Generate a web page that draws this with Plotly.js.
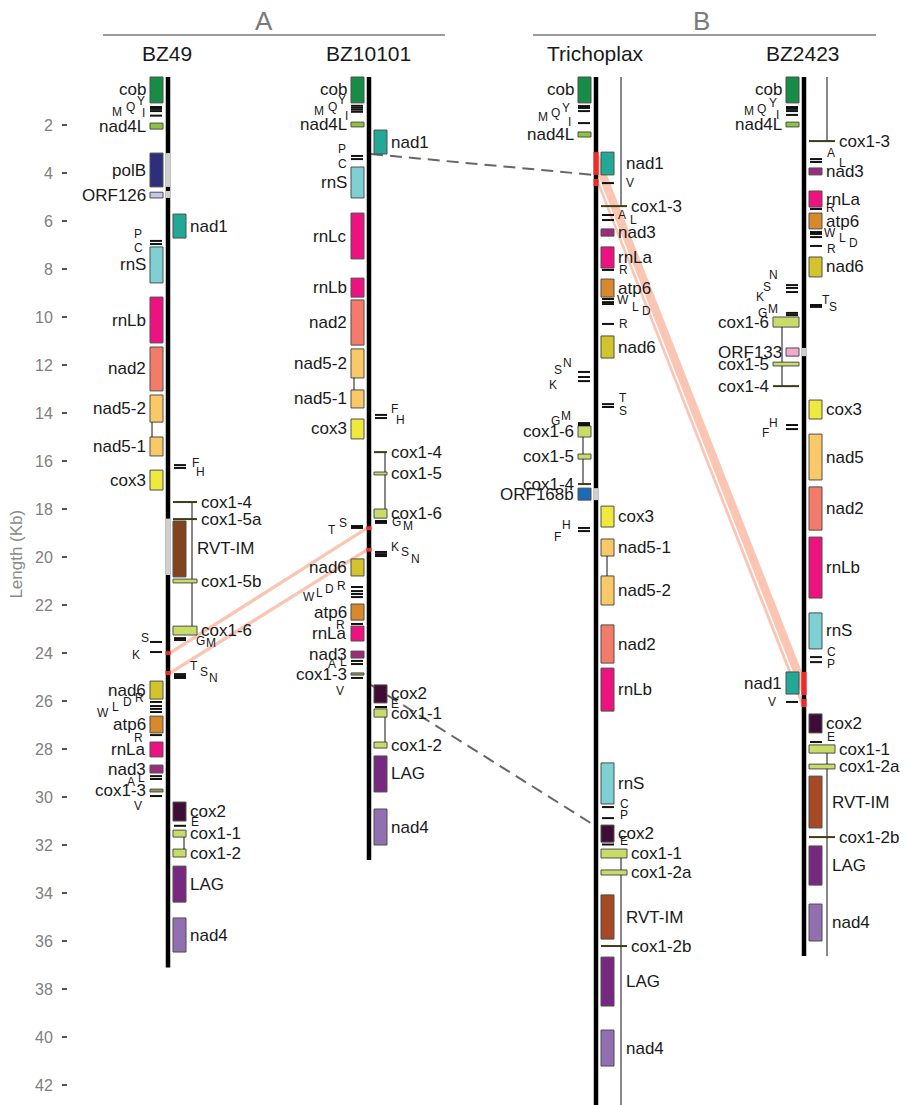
<!DOCTYPE html>
<html><head><meta charset="utf-8">
<script src="https://cdn.plot.ly/plotly-3.0.1.min.js"></script>
<style>html,body{margin:0;padding:0;background:#fff}#chart{width:906px;height:1105px}</style>
</head><body><div id="chart"></div>
<script>
// ================= DATA (kb) =================
const groupNames = ['A', 'B'];
const genomeNames = ['BZ49', 'BZ10101', 'Trichoplax', 'BZ2423'];
const genomeLength = [37.10, 32.63, 43.08, 36.63];
const yTickValues = [2,4,6,8,10,12,14,16,18,20,22,24,26,28,30,32,34,36,38,40,42];
const yTickLabels = ['2','4','6','8','10','12','14','16','18','20','22','24','26','28','30','32','34','36','38','40','42'];

// ---- BZ49 ----
const bz49GeneName   = ['cob','nad4L','polB','ORF126','nad1','rnS','rnLb','nad2','nad5-2','nad5-1','cox3','cox1-4','cox1-5a','RVT-IM','cox1-5b','cox1-6','nad6','atp6','rnLa','nad3','cox1-3','cox2','cox1-1','cox1-2','LAG','nad4'];
const bz49GeneStart  = [0.00,1.92,3.17,4.80,5.71,7.08,9.17,11.25,13.25,15.00,16.38,17.71,18.42,18.50,20.92,22.88,25.17,26.63,27.71,28.67,29.67,30.21,31.38,32.17,32.88,35.04];
const bz49GeneEnd    = [1.08,2.17,4.58,5.04,6.71,8.58,11.08,13.08,14.38,15.79,17.21,17.71,18.42,20.83,21.08,23.25,25.92,27.33,28.33,29.00,29.79,31.00,31.67,32.50,34.38,36.46];
const bz49GeneStrand = ['L','L','L','L','R','L','L','L','L','L','L','R','R','R','R','R','L','L','L','L','L','R','R','R','R','R'];
const bz49TrnaName   = ['M','Q','Y','I','P','C','F','H','G','M','S','K','T','S','N','R','D','L','W','R','A','L','V','E'];
const bz49TrnaPos    = [1.25,1.33,1.42,1.61,6.83,6.96,16.17,16.29,23.38,23.46,23.54,23.96,24.88,24.96,25.04,26.04,26.21,26.33,26.46,27.42,29.13,29.25,29.96,31.20];
const bz49TrnaStrand = ['L','L','L','L','L','L','R','R','R','R','L','L','R','R','R','L','L','L','L','L','L','L','L','R'];
const bz49Intergenic = [[3.17,4.58],[4.75,5.04],[18.40,20.75]];
const bz49Breakpoint = [[23.92,24.08],[24.75,24.92]];

// ---- BZ10101 ----
const bz10101GeneName   = ['cob','nad4L','nad1','rnS','rnLc','rnLb','nad2','nad5-2','nad5-1','cox3','cox1-4','cox1-5','cox1-6','nad6','atp6','rnLa','nad3','cox1-3','cox2','cox1-1','cox1-2','LAG','nad4'];
const bz10101GeneStart  = [0.00,1.88,2.21,3.75,5.67,8.38,9.29,11.33,13.04,14.25,15.63,16.46,18.00,20.08,21.96,22.88,23.92,24.83,25.33,26.33,27.71,28.29,30.50];
const bz10101GeneEnd    = [1.08,2.08,3.21,5.04,7.58,9.17,11.17,12.54,13.79,15.08,15.63,16.58,18.38,20.79,22.63,23.50,24.21,24.92,26.08,26.67,27.96,29.79,32.00];
const bz10101GeneStrand = ['L','L','R','L','L','L','L','L','L','L','R','R','R','L','L','L','L','L','R','R','R','R','R'];
const bz10101TrnaName   = ['M','Q','Y','I','P','C','F','H','G','M','T','S','K','S','N','R','D','L','W','R','A','L','V','E'];
const bz10101TrnaPos    = [1.20,1.28,1.36,1.45,3.29,3.42,14.08,14.21,18.50,18.58,18.71,18.79,19.79,19.88,19.96,21.25,21.42,21.54,21.67,22.79,24.33,24.46,25.04,26.25];
const bz10101TrnaStrand = ['L','L','L','L','L','L','R','R','R','R','L','L','R','R','R','L','L','L','L','L','L','L','L','R'];
const bz10101Intergenic = [];
const bz10101Breakpoint = [[18.72,18.88],[19.62,19.78]];

// ---- Trichoplax ----
const trichGeneName   = ['cob','nad4L','nad1','cox1-3','nad3','rnLa','atp6','nad6','cox1-6','cox1-5','cox1-4','ORF168b','cox3','nad5-1','nad5-2','nad2','rnLb','rnS','cox2','cox1-1','cox1-2a','RVT-IM','cox1-2b','LAG','nad4'];
const trichGeneStart  = [0.00,2.29,3.13,5.38,6.33,7.08,8.42,10.79,14.54,15.71,16.96,17.13,17.88,19.25,20.79,22.83,24.63,28.58,31.17,32.17,33.04,34.08,36.21,36.67,39.71];
const trichGeneEnd    = [1.08,2.50,4.08,5.38,6.63,7.96,9.17,11.71,15.00,15.92,16.96,17.63,18.75,19.96,22.00,24.42,26.42,30.29,31.88,32.54,33.25,35.92,36.21,38.71,41.21];
const trichGeneStrand = ['L','L','R','R','R','R','R','R','L','L','L','L','R','R','R','R','R','R','R','R','R','R','R','R','R'];
const trichTrnaName   = ['M','Q','Y','I','V','A','L','R','W','L','D','R','N','S','K','T','S','G','M','H','F','C','P','E'];
const trichTrnaPos    = [1.21,1.29,1.42,1.92,4.42,5.75,5.96,8.04,9.25,9.38,9.46,10.29,12.29,12.50,12.67,13.63,13.75,14.42,14.50,18.79,18.92,30.42,30.88,31.98];
const trichTrnaStrand = ['L','L','L','L','R','R','R','R','R','R','R','R','L','L','L','R','R','L','L','L','L','R','R','R'];
const trichIntergenic = [[17.13,17.63]];
const trichBreakpoint = [[3.13,4.08],[4.25,4.54]];

// ---- BZ2423 ----
const bz2423GeneName   = ['cob','nad4L','cox1-3','nad3','rnLa','atp6','nad6','cox1-6','ORF133','cox1-5','cox1-4','cox3','nad5','nad2','rnLb','rnS','nad1','cox2','cox1-1','cox1-2a','RVT-IM','cox1-2b','LAG','nad4'];
const bz2423GeneStart  = [0.00,1.88,2.67,3.79,4.75,5.67,7.50,10.00,11.29,11.88,12.88,13.46,14.88,17.08,19.17,22.33,24.79,26.54,27.83,28.63,29.13,31.67,32.04,34.46];
const bz2423GeneEnd    = [1.08,2.08,2.67,4.08,5.42,6.33,8.33,10.42,11.63,12.04,12.88,14.25,16.79,18.88,21.71,23.83,25.71,27.33,28.17,28.83,31.29,31.67,33.67,36.00];
const bz2423GeneStrand = ['L','L','R','R','R','R','R','L','L','L','L','R','R','R','R','R','L','R','R','R','R','R','R','R'];
const bz2423TrnaName   = ['M','Q','Y','I','A','L','R','W','L','D','R','N','S','K','T','S','G','M','H','F','C','P','V','E'];
const bz2423TrnaPos    = [1.25,1.33,1.42,1.58,3.42,3.54,5.50,6.46,6.54,6.67,7.04,8.67,8.79,8.96,9.50,9.58,9.83,9.92,14.50,14.67,24.17,24.38,26.04,27.71];
const bz2423TrnaStrand = ['L','L','L','L','R','R','R','R','R','R','R','L','L','L','R','R','L','L','L','L','R','R','L','R'];
const bz2423Intergenic = [[11.29,11.63]];
const bz2423Breakpoint = [[24.79,25.75],[25.92,26.25]];

// exon joins (intron loops): [from gene, to gene] ('START'/'END' = genome ends)
const bz49Joins    = [['nad5-2','nad5-1'],['cox1-4','cox1-6'],['cox1-1','cox1-2']];
const bz10101Joins = [['nad5-2','nad5-1'],['cox1-4','cox1-6'],['cox1-1','cox1-2']];
const trichJoins   = [['cox1-6','cox1-4'],['nad5-1','nad5-2'],['START','cox1-3'],['cox1-1','END']];
const bz2423Joins  = [['cox1-6','cox1-4'],['START','cox1-3'],['cox1-1','END']];

// syntenic links (pink) and breakpoints (dashed)
const linkFrom   = ['BZ49','BZ49','Trichoplax','Trichoplax'];
const linkFromKb = [[23.92,24.08],[24.75,24.92],[3.13,4.08],[4.25,4.54]];
const linkTo     = ['BZ10101','BZ10101','BZ2423','BZ2423'];
const linkToKb   = [[18.72,18.88],[19.62,19.78],[24.79,25.75],[25.92,26.25]];
const dashFrom   = ['BZ10101','BZ10101'];
const dashFromKb = [3.21, 25.33];
const dashTo     = ['Trichoplax','Trichoplax'];
const dashToKb   = [4.08, 31.17];

// ================= STYLE / LAYOUT =================
const FONT = 'Liberation Sans, Arial, Helvetica, sans-serif';
const colX = {BZ49:168, BZ10101:369, Trichoplax:596, BZ2423:804};
const groupX = {A:[103,445], B:[533,876]};
const groupLabelX = {A:264, B:701};
const geneColor = {
  'cob':'#178c45','nad4L':'#8cc43f','polB':'#2d2f7c','ORF126':'#c3c6e6','nad1':'#21a896',
  'rnS':'#7ed0d3','rnLa':'#ec1380','rnLb':'#ec1380','rnLc':'#ec1380','nad2':'#f37b69',
  'nad5':'#f8c966','nad5-1':'#f8c966','nad5-2':'#f8c966','cox3':'#efe93d','RVT-IM':'#a54a25',
  'nad6':'#d3c42b','atp6':'#d8892b','nad3':'#9c2b7b','cox2':'#3e0c35','LAG':'#772981',
  'nad4':'#916fb0','ORF168b':'#1c6cb5','ORF133':'#f2a9cd','cox1-3':'#8d9b4a'
};
const colorOverride = {BZ49:{'RVT-IM':'#82441f'}};
const cox1Color = '#c9dc67';
const wideGenes = {
  BZ49:['cox1-4','cox1-5a','cox1-5b','cox1-6'], BZ10101:[],
  Trichoplax:['cox1-3','cox1-1','cox1-2a','cox1-2b'],
  BZ2423:['cox1-3','cox1-6','cox1-5','cox1-4','cox1-1','cox1-2a','cox1-2b']
};
const wideReach = {BZ49:29, BZ10101:30, Trichoplax:31, BZ2423:31};
const joinOffset = {BZ49:[-16,24,16], BZ10101:[-15,16,16], Trichoplax:[-13,11,25,25], BZ2423:[-22,23,23]};
const trnaLabelOffset = {
  BZ49:[[-33,5],[-20,-2],[-9,-10],[-7,-3],[-12,-7],[-12,4],[9,-2],[14,4],[14,3],[25,3],[-5,-4],[-14,3],[8,-8],[18,-4],[27,0],[-11,-4],[-23,-4],[-35,-2],[-47,1],[-12,3],[-19,6],[-9,-1],[-12,10],[9,-4]],
  BZ10101:[[-32,5],[-19,-1],[-9,-10],[-5,4],[-9,-7],[-9,5],[7,-6],[13,2],[9,1],[21,3],[-19,4],[-8,-5],[8,-5],[18,-2],[28,3],[-10,-1],[-22,-2],[-32,-1],[-42,0],[-11,1],[-19,3],[-8,-2],[-11,13],[8,-3]],
  Trichoplax:[[-35,11],[-23,5],[-12,-3],[-9,-1],[16,0],[8,0],[19,0],[9,0],[9,1],[21,5],[32,7],[9,0],[-11,-9],[-20,-7],[-25,4],[9,-6],[9,4],[-23,-2],[-12,-9],[-12,-3],[-21,6],[10,-3],[10,-3],[10,-4]],
  BZ2423:[[-37,4],[-25,0],[-13,-8],[-9,0],[9,-6],[20,1],[8,-1],[8,1],[20,4],[31,6],[9,3],[-13,-10],[-19,-1],[-26,5],[4,-5],[11,0],[-24,0],[-13,-6],[-13,-2],[-21,4],[9,-5],[9,2],[-14,0],[9,-5]]
};
const PX = 24; // pixels per kb (for label nudges only)
const KB_TOP = -77/24, KB_BOTTOM = (1105-77)/24;

const genomes = [
  {name:'BZ49', len:genomeLength[0], gn:bz49GeneName, gs:bz49GeneStart, ge:bz49GeneEnd, gd:bz49GeneStrand, tn:bz49TrnaName, tp:bz49TrnaPos, td:bz49TrnaStrand, gray:bz49Intergenic, red:bz49Breakpoint, joins:bz49Joins},
  {name:'BZ10101', len:genomeLength[1], gn:bz10101GeneName, gs:bz10101GeneStart, ge:bz10101GeneEnd, gd:bz10101GeneStrand, tn:bz10101TrnaName, tp:bz10101TrnaPos, td:bz10101TrnaStrand, gray:bz10101Intergenic, red:bz10101Breakpoint, joins:bz10101Joins},
  {name:'Trichoplax', len:genomeLength[2], gn:trichGeneName, gs:trichGeneStart, ge:trichGeneEnd, gd:trichGeneStrand, tn:trichTrnaName, tp:trichTrnaPos, td:trichTrnaStrand, gray:trichIntergenic, red:trichBreakpoint, joins:trichJoins},
  {name:'BZ2423', len:genomeLength[3], gn:bz2423GeneName, gs:bz2423GeneStart, ge:bz2423GeneEnd, gd:bz2423GeneStrand, tn:bz2423TrnaName, tp:bz2423TrnaPos, td:bz2423TrnaStrand, gray:bz2423Intergenic, red:bz2423Breakpoint, joins:bz2423Joins}
];

// ================= BUILD =================
const mk = () => ({x:[], y:[]});
const backbone = mk(), grayT = mk(), redT = mk(), thin = mk(), trnaT = mk(), glineT = mk();
const bar = {x:[], base:[], y:[], width:[], color:[]};
const ann = [];
function seg(o, x0, y0, x1, y1) { o.x.push(x0, x1, null); o.y.push(y0, y1, null); }

genomes.forEach(G => {
  const bx = colX[G.name];
  seg(backbone, bx, 0, bx, G.len);
  G.gray.forEach(r => seg(grayT, bx, r[0], bx, r[1]));
  G.red.forEach(r => seg(redT, bx, r[0], bx, r[1]));
  const wide = wideGenes[G.name], reach = wideReach[G.name];
  const boxes = [];
  const joinSpans = G.joins.map((j, k) => {
    const off = joinOffset[G.name][k];
    const yOf = n => n === 'START' ? 0 : n === 'END' ? G.len : (G.gs[G.gn.indexOf(n)] + G.ge[G.gn.indexOf(n)]) / 2;
    const a = yOf(j[0]), b = yOf(j[1]);
    return {x: bx + off, off, y0: Math.min(a, b), y1: Math.max(a, b)};
  });
  G.gn.forEach((n, i) => {
    const s = G.gs[i], e = G.ge[i], L = G.gd[i] === 'L', w = wide.includes(n);
    const xr = L ? [bx - (w ? reach : 18), bx - 5] : [bx + 5, bx + (w ? reach : 18)];
    if (e - s < 0.001) {
      seg(glineT, xr[0], s, xr[1], s);
    } else {
      const c = (colorOverride[G.name] && colorOverride[G.name][n]) || geneColor[n] || (n.startsWith('cox1') ? cox1Color : '#999');
      bar.x.push((xr[0] + xr[1]) / 2); bar.width.push(xr[1] - xr[0]);
      bar.base.push(s); bar.y.push(e - s); bar.color.push(c);
      boxes.push({x0:xr[0], x1:xr[1], s, e});
    }
    const yc = (s + e) / 2;
    let lx, anchor;
    if (L) { lx = xr[0] - 2; anchor = 'right'; }
    else {
      lx = xr[1] + 2; anchor = 'left';
      if (!w) joinSpans.forEach(js => { if (js.off > 18 && yc > js.y0 && yc < js.y1) lx = js.x + 3; });
    }
    ann.push({x:lx, y:yc, xref:'x', yref:'y', text:n, showarrow:false, xanchor:anchor, yanchor:'middle',
              font:{family:FONT, size:17, color:'#1a1a1a'}});
  });
  joinSpans.forEach(js => {
    const cov = boxes.filter(b => js.x >= b.x0 && js.x <= b.x1).map(b => [b.s, b.e]).sort((p, q) => p[0] - q[0]);
    let cur = js.y0;
    cov.forEach(c => { if (c[1] <= cur || c[0] >= js.y1) return; if (c[0] > cur) seg(thin, js.x, cur, js.x, c[0]); cur = Math.max(cur, c[1]); });
    if (cur < js.y1) seg(thin, js.x, cur, js.x, js.y1);
  });
  G.tn.forEach((t, i) => {
    const p = G.tp[i], L = G.td[i] === 'L';
    const outer = L ? bx - 18 : bx + 18;
    if (L) seg(trnaT, bx - 18, p, bx - 6, p); else seg(trnaT, bx + 6, p, bx + 18, p);
    const off = trnaLabelOffset[G.name][i];
    ann.push({x:outer + off[0], y:p + off[1] / PX, xref:'x', yref:'y', text:t, showarrow:false,
              xanchor:'center', yanchor:'middle', font:{family:FONT, size:12, color:'#1a1a1a'}});
  });
  ann.push({x:bx - 1, y:-0.96, xref:'x', yref:'y', text:G.name, showarrow:false, xanchor:'center', yanchor:'middle',
            font:{family:FONT, size:21, color:'#1a1a1a'}});
});

const hdr = mk();
groupNames.forEach(g => {
  seg(hdr, groupX[g][0], -1.75, groupX[g][1], -1.75);
  ann.push({x:groupLabelX[g], y:-2.33, xref:'x', yref:'y', text:g, showarrow:false, xanchor:'center', yanchor:'middle',
            font:{family:FONT, size:26, color:'#7a7a7a'}});
});
ann.push({x:(17 - 68) / (906 - 68), y:19.9, xref:'paper', yref:'y', text:'Length (Kb)', textangle:-90, showarrow:false,
          xanchor:'center', yanchor:'middle', font:{family:FONT, size:17, color:'#8a8a8a'}});

const shapes = [];
linkFrom.forEach((f, i) => {
  const x0 = colX[f] + 2, x1 = colX[linkTo[i]] - 2, a = linkFromKb[i], b = linkToKb[i];
  shapes.push({type:'path', xref:'x', yref:'y', layer:'below',
    path:`M ${x0},${a[0]} L ${x1},${b[0]} L ${x1},${b[1]} L ${x0},${a[1]} Z`,
    fillcolor:'rgba(246,150,115,0.55)', line:{width:0}});
});
dashFrom.forEach((f, i) => {
  shapes.push({type:'line', xref:'x', yref:'y', layer:'below', x0:colX[f] + 2, y0:dashFromKb[i], x1:colX[dashTo[i]] - 2, y1:dashToKb[i],
    line:{color:'#666666', width:2, dash:'12px,7px'}});
});

const L = (o, color, width) => ({type:'scatter', mode:'lines', x:o.x, y:o.y, hoverinfo:'skip',
  line:{color, width}, connectgaps:false});
const traces = [
  {type:'bar', x:bar.x, base:bar.base, y:bar.y, width:bar.width, hoverinfo:'skip',
   marker:{color:bar.color, line:{color:'#4e4e4e', width:1}}},
  L(thin, '#111111', 1),
  L(backbone, '#000000', 4.5),
  L(grayT, '#cfcfcf', 4.5),
  L(redT, '#ee2a2a', 5),
  L(glineT, '#3c3c16', 2),
  L(trnaT, '#111111', 2),
  L(hdr, '#9a9a9a', 2)
];

const layout = {
  width:906, height:1105, margin:{l:68, r:0, t:0, b:0},
  paper_bgcolor:'#ffffff', plot_bgcolor:'#ffffff', showlegend:false, barmode:'overlay',
  xaxis:{range:[68, 906], visible:false, fixedrange:true},
  yaxis:{range:[KB_BOTTOM, KB_TOP], tickvals:yTickValues, ticktext:yTickLabels, ticks:'outside', ticklen:5, tickwidth:1.5,
         tickcolor:'#555555', showgrid:false, zeroline:false, showline:false, ticklabelstandoff:6,
         tickfont:{family:FONT, size:16, color:'#808080'}, fixedrange:true},
  annotations:ann, shapes:shapes
};
Plotly.newPlot('chart', traces, layout, {staticPlot:true, displayModeBar:false});
</script></body></html>
